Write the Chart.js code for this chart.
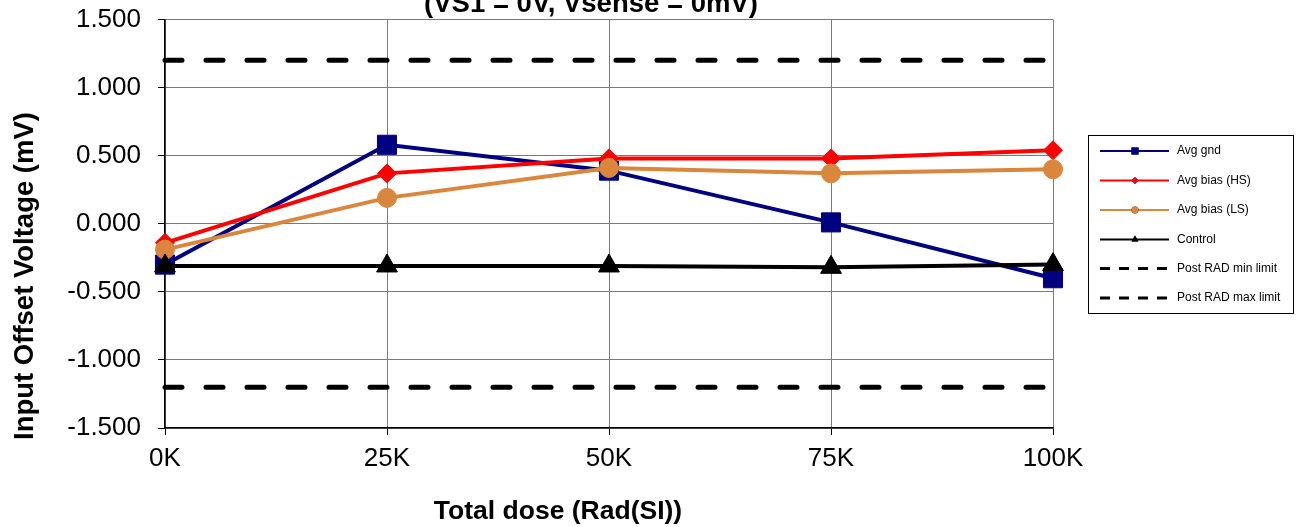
<!DOCTYPE html>
<html>
<head>
<meta charset="utf-8">
<script src="https://cdn.jsdelivr.net/npm/chart.js@4/dist/chart.umd.min.js"></script>
<style>
  html, body { margin: 0; padding: 0; background: #fff; }
  #c { display: block; }
</style>
</head>
<body>
<canvas id="c" width="1296" height="527"></canvas>
<script>
// Total dose steps (krad)
const doses = [0, 25, 50, 75, 100];

// Input offset voltage in mV per dose step
const avgGnd    = [-0.30, 0.58, 0.39, 0.01, -0.40];
const avgBiasHS = [-0.14, 0.37, 0.48, 0.48, 0.54];
const avgBiasLS = [-0.19, 0.19, 0.41, 0.37, 0.40];
const control   = [-0.31, -0.31, -0.31, -0.32, -0.30];

// Post-irradiation spec limits (mV)
const postRadMin = -1.2;
const postRadMax = 1.2;

const titleText = '(VS1 = 0V, Vsense = 0mV)';
const xTitle = 'Total dose (Rad(SI))';
const yTitle = 'Input Offset Voltage (mV)';

const FONT = '"Liberation Sans", Arial, sans-serif';

function pts(values) {
  return doses.map((d, i) => ({ x: d, y: values[i] }));
}
function flat(v) {
  return doses.map(d => ({ x: d, y: v }));
}

const datasets = [
  { label: 'Avg gnd', data: pts(avgGnd), borderColor: '#000080', backgroundColor: '#000080',
    pointStyle: 'rect', pointRadius: 13.5, legendRadius: 5, order: 6 },
  { label: 'Avg bias (HS)', data: pts(avgBiasHS), borderColor: '#ff0000', backgroundColor: '#ff0000',
    pointStyle: 'rectRot', pointRadius: 9.5, legendRadius: 3.5, order: 5 },
  { label: 'Avg bias (LS)', data: pts(avgBiasLS), borderColor: '#da863d', backgroundColor: '#da863d',
    pointStyle: 'circle', pointRadius: 9.5, legendRadius: 3.5, order: 4 },
  { label: 'Control', data: pts(control), borderColor: '#000000', backgroundColor: '#000000',
    pointStyle: 'triangle', pointRadius: 12, legendRadius: 4, order: 3 },
  { label: 'Post RAD min limit', data: flat(postRadMin), borderColor: '#000000', backgroundColor: '#000000',
    borderDash: [17, 24], borderCapStyle: 'round', borderWidth: 5, pointRadius: 0, order: 2, dashed: true },
  { label: 'Post RAD max limit', data: flat(postRadMax), borderColor: '#000000', backgroundColor: '#000000',
    borderDash: [17, 24], borderCapStyle: 'round', borderWidth: 5, pointRadius: 0, order: 1, dashed: true }
];
datasets.forEach(ds => {
  if (ds.borderWidth === undefined) ds.borderWidth = 4;
  ds.tension = 0;
  ds.fill = false;
  ds.clip = false;
  ds.pointBorderWidth = 1;
  ds.pointHoverRadius = ds.pointRadius;
});

// Title, axis titles and boxed legend drawn on the canvas
const decorations = {
  id: 'decorations',
  afterDraw(chart) {
    const ctx = chart.ctx;
    ctx.save();
    ctx.fillStyle = '#000';

    ctx.font = 'bold 27.5px ' + FONT;
    ctx.textAlign = 'center';
    ctx.textBaseline = 'alphabetic';
    ctx.fillText(titleText, 591, 12);

    ctx.font = 'bold 26.5px ' + FONT;
    ctx.fillText(xTitle, 558, 519);

    ctx.save();
    ctx.translate(25, 276);
    ctx.rotate(-Math.PI / 2);
    ctx.font = 'bold 27.5px ' + FONT;
    ctx.textBaseline = 'middle';
    ctx.fillText(yTitle, 0, 0);
    ctx.restore();

    // legend box
    const bx = 1088, by = 135, bw = 205, bh = 178;
    ctx.strokeStyle = '#000';
    ctx.lineWidth = 1;
    ctx.strokeRect(bx + 0.5, by + 0.5, bw, bh);

    const rows = [151, 180.5, 210, 239.5, 268.5, 298];
    chart.data.datasets.forEach((ds, i) => {
      const y = rows[i];
      ctx.save();
      ctx.strokeStyle = ds.borderColor;
      if (ds.dashed) {
        ctx.lineWidth = 3;
        ctx.setLineDash([10, 9]);
      } else {
        ctx.lineWidth = 2;
        ctx.setLineDash([]);
      }
      ctx.beginPath();
      ctx.moveTo(1100, y);
      ctx.lineTo(1169, y);
      ctx.stroke();
      ctx.restore();
      if (!ds.dashed) {
        Chart.helpers.drawPoint(ctx, {
          pointStyle: ds.pointStyle, radius: ds.legendRadius, rotation: 0, borderWidth: 0
        }, 1135, y);
        ctx.fillStyle = ds.backgroundColor;
        ctx.fill();
      }
      ctx.fillStyle = '#000';
      ctx.font = '12px ' + FONT;
      ctx.textAlign = 'left';
      ctx.textBaseline = 'middle';
      ctx.fillText(ds.label, 1177, y);
    });
    ctx.restore();
  }
};

new Chart(document.getElementById('c'), {
  type: 'line',
  data: { datasets },
  options: {
    responsive: false,
    maintainAspectRatio: false,
    animation: false,
    events: [],
    layout: { padding: { top: 19.5, right: 243, left: 0, bottom: 0 } },
    plugins: {
      legend: { display: false },
      title: { display: false },
      tooltip: { enabled: false }
    },
    scales: {
      x: {
        type: 'linear',
        min: 0,
        max: 100,
        afterFit(scale) { scale.height = 99; scale.paddingLeft = 0; scale.paddingRight = 0; },
        ticks: {
          stepSize: 25,
          color: '#000',
          padding: 8,
          maxRotation: 0,
          font: { family: FONT, size: 26 },
          callback: v => v + 'K'
        },
        grid: { color: '#7a7a7a', lineWidth: 1, tickColor: '#000', tickLength: 7 },
        border: { color: '#000', width: 1.5 }
      },
      y: {
        min: -1.5,
        max: 1.5,
        afterFit(scale) { scale.width = 165; scale.paddingTop = 0; scale.paddingBottom = 0; },
        ticks: {
          stepSize: 0.5,
          color: '#000',
          padding: 17,
          font: { family: FONT, size: 26 },
          callback: v => v.toFixed(3)
        },
        grid: { color: '#7a7a7a', lineWidth: 1, tickColor: '#000', tickLength: 7 },
        border: { color: '#000', width: 1.5 }
      }
    }
  },
  plugins: [decorations]
});
</script>
</body>
</html>
